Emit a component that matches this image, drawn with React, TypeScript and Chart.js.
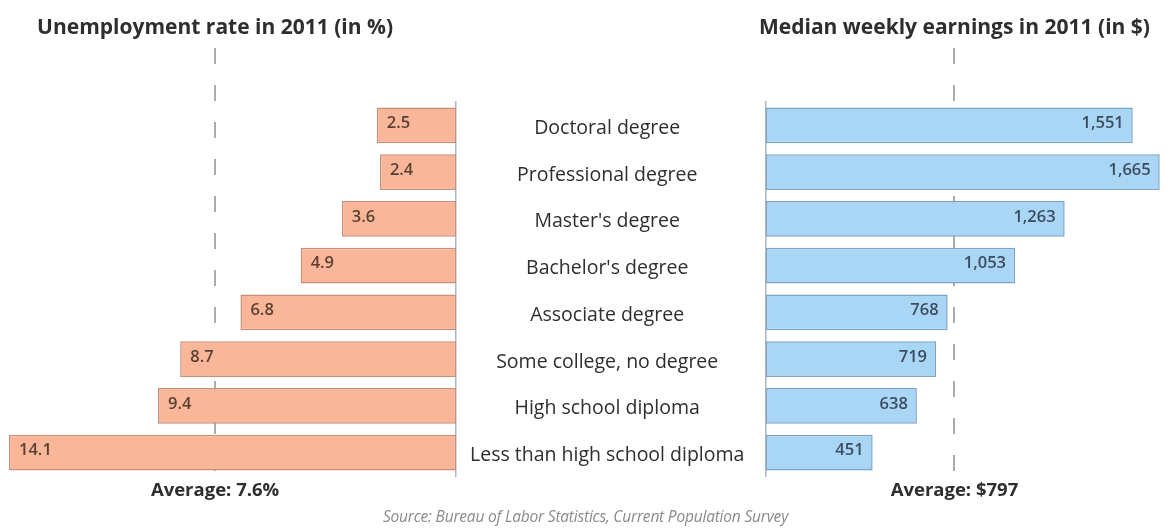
import React, { useEffect, useRef } from "react";
import { Chart, registerables } from "chart.js";

Chart.register(...registerables);

const categories = [
  "Doctoral degree",
  "Professional degree",
  "Master's degree",
  "Bachelor's degree",
  "Associate degree",
  "Some college, no degree",
  "High school diploma",
  "Less than high school diploma",
];
const unemployment = [2.5, 2.4, 3.6, 4.9, 6.8, 8.7, 9.4, 14.1];
const earnings = [1551, 1665, 1263, 1053, 768, 719, 638, 451];
const unemploymentAverage = 7.6;
const earningsAverage = 797;
const leftTitle = "Unemployment rate in 2011 (in %)";
const rightTitle = "Median weekly earnings in 2011 (in $)";
const leftAverageLabel = "Average: 7.6%";
const rightAverageLabel = "Average: $797";
const sourceText = "Source: Bureau of Labor Statistics, Current Population Survey";

const FONT = "'Open Sans', 'Noto Sans', sans-serif";

function makeOverlay(
  avg: number,
  title: string,
  avgLabel: string,
  side: "left" | "right",
  fmt: (v: number) => string,
  valueColor: string
) {
  return {
    id: "overlay" + side,
    beforeDatasetsDraw(chart: any) {
      const ctx = chart.ctx;
      const x = chart.scales.x.getPixelForValue(avg);
      const area = chart.chartArea;
      ctx.save();
      ctx.strokeStyle = "#ababab";
      ctx.lineWidth = 2;
      ctx.setLineDash([16, 21]);
      ctx.beginPath();
      ctx.moveTo(Math.round(x), 48);
      ctx.lineTo(Math.round(x), area.bottom);
      ctx.stroke();
      ctx.restore();
    },
    afterDatasetsDraw(chart: any) {
      const ctx = chart.ctx;
      const x = chart.scales.x.getPixelForValue(avg);
      const area = chart.chartArea;
      ctx.save();
      ctx.fillStyle = "#2e2e2e";
      ctx.font = `bold 21px ${FONT}`;
      ctx.textAlign = "center";
      ctx.textBaseline = "middle";
      ctx.fillText(title, x, 28);
      ctx.font = `bold 18.5px ${FONT}`;
      ctx.fillText(avgLabel, x, area.bottom + 15);
      // value labels
      const meta = chart.getDatasetMeta(0);
      ctx.font = `600 16.5px ${FONT}`;
      ctx.fillStyle = valueColor;
      meta.data.forEach((bar: any, i: number) => {
        const v = chart.data.datasets[0].data[i];
        if (side === "left") {
          ctx.textAlign = "left";
          ctx.fillText(fmt(v), bar.x + 10, bar.y - 2);
        } else {
          ctx.textAlign = "right";
          ctx.fillText(fmt(v), bar.x - 9, bar.y - 2);
        }
      });
      ctx.restore();
    },
  };
}

export default function App() {
  const leftRef = useRef<HTMLCanvasElement | null>(null);
  const rightRef = useRef<HTMLCanvasElement | null>(null);

  useEffect(() => {
    const left = new Chart(leftRef.current as HTMLCanvasElement, {
      type: "bar",
      data: {
        labels: categories,
        datasets: [
          {
            data: unemployment,
            backgroundColor: "#f9b698",
            borderColor: "#c98f78",
            borderWidth: 1.5,
            borderSkipped: false,
            categoryPercentage: 1,
            barPercentage: 0.77,
          },
        ],
      },
      options: {
        indexAxis: "y",
        animation: false,
        responsive: false,
        maintainAspectRatio: false,
        layout: { padding: { left: 9, right: 0, top: 102, bottom: 53 } },
        plugins: { legend: { display: false }, tooltip: { enabled: false } },
        scales: {
          x: { display: false, reverse: true, min: 0, max: 14.1 },
          y: {
            position: "right",
            grid: { display: false, drawTicks: false },
            border: { display: true, color: "#a9b8c8", width: 1.5 },
            ticks: {
              padding: 14,
              labelOffset: 3,
              crossAlign: "center",
              color: "#2e2e2e",
              font: { family: FONT, size: 19.5 },
            },
            afterFit: (s: any) => {
              s.width = 310;
            },
          },
        },
      },
      plugins: [
        makeOverlay(unemploymentAverage, leftTitle, leftAverageLabel, "left", (v) => v.toFixed(1), "#5a4032"),
      ],
    } as any);

    const right = new Chart(rightRef.current as HTMLCanvasElement, {
      type: "bar",
      data: {
        labels: categories,
        datasets: [
          {
            data: earnings,
            backgroundColor: "#aad6f5",
            borderColor: "#7ba4c6",
            borderWidth: 1.5,
            borderSkipped: false,
            categoryPercentage: 1,
            barPercentage: 0.77,
          },
        ],
      },
      options: {
        indexAxis: "y",
        animation: false,
        responsive: false,
        maintainAspectRatio: false,
        layout: { padding: { left: 10, right: 3, top: 102, bottom: 53 } },
        plugins: { legend: { display: false }, tooltip: { enabled: false } },
        scales: {
          x: { display: false, min: 0, max: 1700 },
          y: {
            position: "left",
            grid: { display: false, drawTicks: false },
            border: { display: true, color: "#a9b8c8", width: 1.5 },
            ticks: { display: false },
            afterFit: (s: any) => {
              s.width = 0;
            },
          },
        },
      },
      plugins: [
        makeOverlay(earningsAverage, rightTitle, rightAverageLabel, "right", (v) => v.toLocaleString("en-US"), "#3c4c60"),
      ],
    } as any);

    return () => {
      left.destroy();
      right.destroy();
    };
  }, []);

  return (
    <div
      style={{
        position: "fixed",
        left: 0,
        top: 0,
        width: 1171,
        height: 529,
        background: "#ffffff",
        overflow: "hidden",
      }}
    >
      <canvas
        ref={leftRef}
        width={766}
        height={529}
        style={{ position: "absolute", left: 0, top: 0, width: 766, height: 529 }}
      />
      <canvas
        ref={rightRef}
        width={415}
        height={529}
        style={{ position: "absolute", left: 756, top: 0, width: 415, height: 529 }}
      />
      <div
        style={{
          position: "absolute",
          left: 0,
          width: 1171,
          top: 505,
          textAlign: "center",
          fontFamily: FONT,
          fontStyle: "italic",
          fontSize: 15.5,
          color: "#8a8a8a",
          letterSpacing: -0.2,
        }}
      >
        {sourceText}
      </div>
    </div>
  );
}
